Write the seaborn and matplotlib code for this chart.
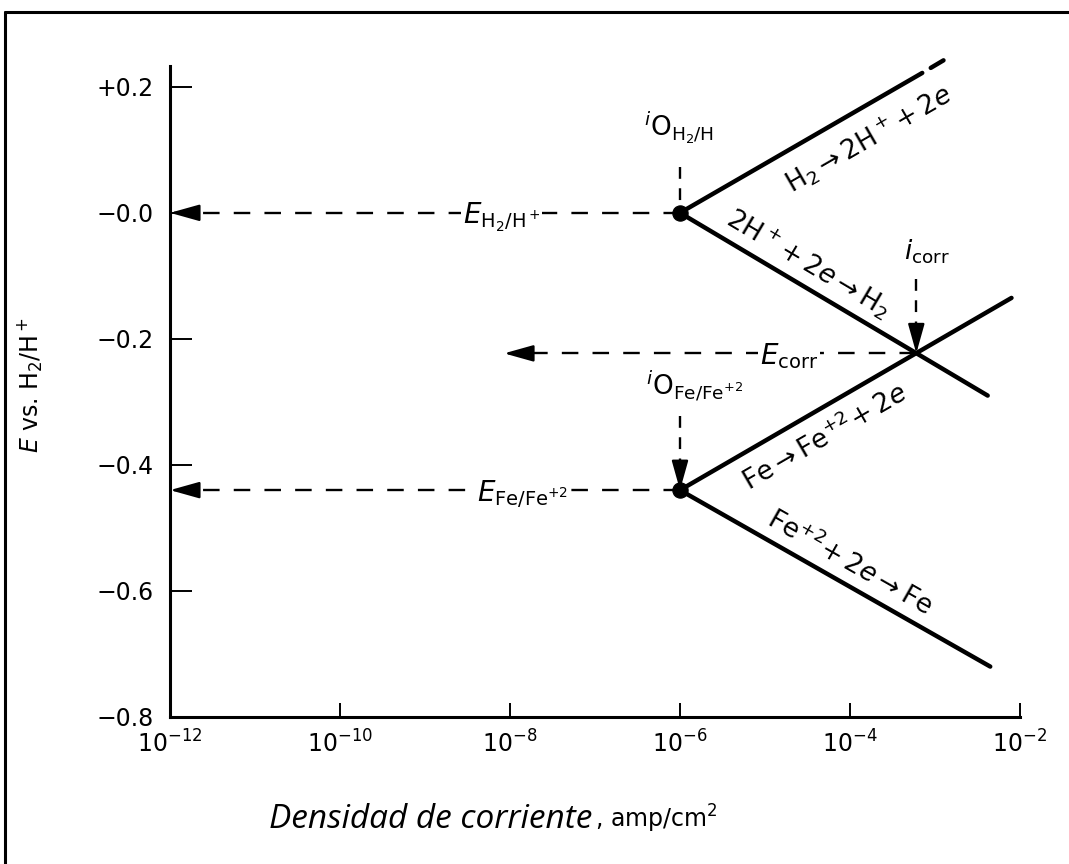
import numpy as np
import pandas as pd
import matplotlib
matplotlib.use("Agg")
import matplotlib.pyplot as plt
from matplotlib.lines import Line2D
import seaborn as sns

# Exchange current densities (amp/cm^2) and equilibrium potentials (V vs H2/H+)
I0_H2 = 1e-6
E_H2 = 0.0
I0_FE = 1e-6
E_FE = -0.44
# Mixed (corrosion) potential and current
I_CORR = 10 ** -3.22
E_CORR = -0.223

# Tafel branches: end points (current density, potential)
h2_ox_i = [1e-6, 10 ** -3.15]
h2_ox_E = [0.0, 0.222]
h2_ox_tail_i = [10 ** -3.05, 10 ** -2.9]
h2_ox_tail_E = [0.230, 0.242]
h2_red_i = [1e-6, 10 ** -2.38]
h2_red_E = [0.0, -0.29]
fe_ox_i = [1e-6, 10 ** -2.1]
fe_ox_E = [-0.44, -0.135]
fe_red_i = [1e-6, 10 ** -2.35]
fe_red_E = [-0.44, -0.72]

# Axis ticks
x_ticks = [1e-12, 1e-10, 1e-8, 1e-6, 1e-4, 1e-2]
x_tick_labels = [r"$10^{-12}$", r"$10^{-10}$", r"$10^{-8}$", r"$10^{-6}$", r"$10^{-4}$", r"$10^{-2}$"]
y_ticks = [-0.8, -0.6, -0.4, -0.2, 0.0, 0.2]
y_tick_labels = ["\u22120.8", "\u22120.6", "\u22120.4", "\u22120.2", "\u22120.0", "+0.2"]

sns.set_theme(style="ticks")
plt.rcParams["font.family"] = ["DejaVu Sans"]
plt.rcParams["mathtext.fontset"] = "dejavusans"
plt.rcParams["text.color"] = "black"
plt.rcParams["axes.labelcolor"] = "black"

W, H = 1069, 864
fig = plt.figure(figsize=(W / 100, H / 100), dpi=100)
fig.patch.set_facecolor("white")
ax = fig.add_axes([170 / W, 1 - 717 / H, 850 / W, (717 - 66) / H])
ax.set_facecolor("white")
ax.set_xscale("log")
ax.set_xlim(1e-12, 1e-2)
ax.set_ylim(-0.8, 0.233)

# Polarisation lines
branches = pd.DataFrame({
    "i": h2_ox_i + h2_ox_tail_i + h2_red_i + fe_ox_i + fe_red_i,
    "E": h2_ox_E + h2_ox_tail_E + h2_red_E + fe_ox_E + fe_red_E,
    "branch": ["h2_ox"] * 2 + ["h2_tail"] * 2 + ["h2_red"] * 2 + ["fe_ox"] * 2 + ["fe_red"] * 2,
})
sns.lineplot(data=branches, x="i", y="E", units="branch", estimator=None, sort=False,
             color="black", lw=3.2, ax=ax, clip_on=False, legend=False)

# Equilibrium points
sns.scatterplot(x=[I0_H2, I0_FE], y=[E_H2, E_FE], s=120, color="black",
                edgecolor="black", ax=ax, zorder=6, legend=False)

dash = (0, (7, 6))
dlw = 1.7
head = dict(arrowstyle="-|>,head_length=1.0,head_width=0.28", mutation_scale=18,
            color="black", lw=dlw, shrinkA=0, shrinkB=0)


def h_arrow(x_from, x_to, y):
    ax.plot([x_from, x_to * 10 ** 0.25], [y, y], ls=dash, lw=dlw, color="black", zorder=3)
    ax.annotate("", xy=(x_to, y), xytext=(x_to * 10 ** 0.3, y), arrowprops=head, zorder=4)


def v_arrow(x, y_from, y_to, tip=True):
    if tip:
        ax.plot([x, x], [y_from, y_to + 0.04], ls=(0, (5, 4)), lw=dlw, color="black", zorder=3)
        ax.annotate("", xy=(x, y_to), xytext=(x, y_to + 0.045), arrowprops=head, zorder=4)
    else:
        ax.plot([x, x], [y_from, y_to], ls=(0, (5, 4)), lw=dlw, color="black", zorder=3)


h_arrow(I0_H2, 1e-12, E_H2)
h_arrow(I_CORR, 10 ** -8.07, E_CORR)
h_arrow(I0_FE, 1e-12, E_FE)

v_arrow(I0_H2, 0.072, E_H2, tip=False)
v_arrow(I_CORR, -0.105, E_CORR)
v_arrow(I0_FE, -0.322, E_FE)

box = dict(facecolor="white", edgecolor="none", pad=1.5)
lab_kw = dict(textcoords="offset points", ha="center", va="baseline", fontsize=20,
              bbox=box, zorder=5, color="black")
ax.annotate(r"$E_{\mathrm{H_2/H^+}}$", xy=(10 ** -8.1, E_H2), xytext=(0, -8), **lab_kw)
ax.annotate(r"$E_{\mathrm{corr}}$", xy=(10 ** -4.72, E_CORR), xytext=(0, -8), **lab_kw)
ax.annotate(r"$E_{\mathrm{Fe/Fe^{+2}}}$", xy=(10 ** -7.85, E_FE), xytext=(0, -8), **lab_kw)

ax.text(10 ** -6.42, 0.135, r"${}^{i}\mathrm{O}_{\mathrm{H_2/H}}$", fontsize=19,
        ha="left", va="center", color="black")
ax.text(10 ** -3.36, -0.062, r"$i_{\mathrm{corr}}$", fontsize=19, ha="left", va="center",
        color="black")
ax.text(10 ** -6.4, -0.275, r"${}^{i}\mathrm{O}_{\mathrm{Fe/Fe^{+2}}}$", fontsize=19,
        ha="left", va="center", color="black")


def disp_angle(xs, ys):
    p = ax.transData.transform(np.column_stack([xs, ys]))
    return np.degrees(np.arctan2(p[1, 1] - p[0, 1], p[1, 0] - p[0, 0]))


reactions = [
    (r"$\mathrm{H_2 \rightarrow 2H^+\!+2}e$", 10 ** -3.78, 0.117, h2_ox_i, h2_ox_E),
    (r"$\mathrm{2H^+\!+2}e \rightarrow \mathrm{H_2}$", 10 ** -4.49, -0.080, h2_red_i, h2_red_E),
    (r"$\mathrm{Fe \rightarrow Fe^{+2}\!+2}e$", 10 ** -4.29, -0.357, fe_ox_i, fe_ox_E),
    (r"$\mathrm{Fe^{+2}\!+2}e \rightarrow \mathrm{Fe}$", 10 ** -4.0, -0.556, fe_red_i, fe_red_E),
]
for txt, x, y, xs, ys in reactions:
    ax.text(x, y, txt, fontsize=19, rotation=disp_angle(xs, ys), rotation_mode="anchor",
            ha="center", va="center", color="black")

# Axes styling
for side in ["top", "right"]:
    ax.spines[side].set_visible(False)
for side in ["left", "bottom"]:
    ax.spines[side].set_linewidth(2.2)
    ax.spines[side].set_color("black")
ax.set_xticks(x_ticks)
ax.set_xticklabels(x_tick_labels)
ax.set_yticks(y_ticks)
ax.set_yticklabels(y_tick_labels)
ax.minorticks_off()
ax.tick_params(axis="y", direction="in", length=16, width=1.4, labelsize=17,
               color="black", labelcolor="black")
ax.tick_params(axis="x", direction="in", length=10, width=1.4, labelsize=17, pad=10,
               color="black", labelcolor="black")
ax.yaxis.set_tick_params(pad=12)
ax.set_xlabel("")
ax.set_ylabel(r"$E$ vs. H$_2$/H$^+$", fontsize=17, color="black")
ax.yaxis.set_label_coords((45 - 170) / 850, (717 - 385) / 651)

# Axis title with mixed styling
y_base = 1 - 828 / H
t1 = fig.text(269 / W, y_base, "Densidad de corriente", fontsize=24, family="Open Sans",
              style="italic", ha="left", va="baseline", color="black")
fig.canvas.draw()
bb = t1.get_window_extent()
fig.text(bb.x1 / W + 0.002, y_base, r", amp/cm$^2$", fontsize=17, ha="left", va="baseline",
         color="black")

# Outer frame
fig.add_artist(Line2D([5 / W, 1.0], [1 - 12 / H, 1 - 12 / H], transform=fig.transFigure,
                      color="black", lw=2.2))
fig.add_artist(Line2D([5 / W, 5 / W], [0.0, 1 - 12 / H], transform=fig.transFigure,
                      color="black", lw=2.2))

fig.savefig("out.png", dpi=100, facecolor="white")
